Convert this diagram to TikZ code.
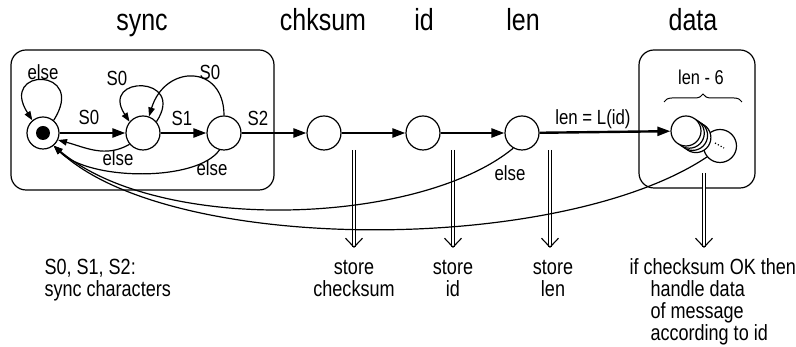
\documentclass[tikz,border=0pt]{standalone}
\usepackage{fontspec}
\setmainfont{Liberation Sans}[FakeStretch=0.82]
\usetikzlibrary{arrows.meta,decorations.pathreplacing}

\tikzset{
    state/.style={circle, draw, line width=1.2pt, minimum size=34pt, inner sep=0pt, fill=white},
    group/.style={draw, line width=1.2pt, rounded corners=15pt},
    title/.style={anchor=base, font=\fontsize{30.5}{30.5}\selectfont},
    lbl/.style={font=\fontsize{20.5}{20.5}\selectfont},
    flow/.style={line width=2.4pt, -{Triangle[length=13pt,width=9pt]}},
    back/.style={line width=1.2pt, -{Triangle[length=9pt,width=6.5pt]}},
    store/.style={double, line width=1.1pt, double distance=2.4pt, -{Straight Barb[length=9pt,width=17pt]}},
    note/.style={anchor=base, align=center, font=\fontsize{22}{22}\selectfont}
}

\begin{document}
\begin{tikzpicture}[x=1pt, y=1pt]
    \useasboundingbox (0,0) rectangle (796,347);

    % the rounded boxes around sync and data
    \draw[group] (11,157) rectangle (274,297);
    \draw[group] (639,159) rectangle (755,297);

    % titles
    \node[title] (tsync) at (142,316) {sync};
    \node[title] (tchk) at (323,316) {chksum};
    \node[title] (tid) at (424,316) {id};
    \node[title] (tlen) at (523,316) {len};
    \node[title] (tdata) at (693,316) {data};

    % the states of the receiver
    \node[state, minimum size=32pt] (idle) at (43,214) {};
    \fill (idle) circle (7);
    \node[state] (gots0) at (143,214) {};
    \node[state] (gots1) at (224,214) {};
    \node[state] (chk) at (324,214) {};
    \node[state] (idst) at (423,214) {};
    \node[state] (lenst) at (522,214) {};

    % the stacked data states
    \node[state, minimum size=33pt] (dlast) at (720,201) {};
    \draw[line width=1.2pt, dotted] (715,204) -- (724,199);
    \foreach \d in {3,2,1}
        \draw[line width=1.2pt, fill=white] (686+3.3*\d,216-2.2*\d) circle (15);
    \node[state, minimum size=30pt] (dfront) at (686,216) {};

    % the brace for the data length
    \draw[line width=1pt, decorate, decoration={brace, amplitude=8pt}] (664,245) -- (742,245);
    \node[lbl, font=\fontsize{20}{20}\selectfont] (nlen) at (701,270) {len - 6};

    % the main chain
    \draw[flow] (idle) -- (gots0);
    \draw[flow] (gots0) -- (gots1);
    \draw[flow] (gots1) -- (chk);
    \draw[flow] (chk) -- (idst);
    \draw[flow] (idst) -- (lenst);
    \draw[flow] (lenst) -- (dfront);
    \node[lbl] (ls0) at (89,230) {S0};
    \node[lbl] (ls1) at (182,229) {S1};
    \node[lbl] (ls2) at (258,229) {S2};
    \node[lbl] (llen) at (593,228) {len = L(id)};

    % loops and arcs inside sync
    \draw[back] (idle.50) .. controls (88,280) and (-2,280) .. (idle.130);
    \node[lbl] (lloop0) at (43,275) {else};
    \draw[back] (gots0.40) .. controls (187,272) and (99,272) .. (gots0.140);
    \node[lbl] (lloop1) at (117,269) {S0};
    \draw[back] (gots1.90) .. controls (224,283) and (165,283) .. (gots0.70);
    \node[lbl] (larc) at (210,275) {S0};
    \draw[back] (gots0.220) to[out=210, in=-15] (idle.-25);
    \node[lbl] (lel1) at (118,189) {else};
    \draw[back] (gots1.255) .. controls (197,165) and (89,166) .. (idle.-50);
    \node[lbl] (lel2) at (212,179) {else};

    % storing the fields
    \coordinate (chkin) at (354,197);
    \coordinate (chkout) at (354,99);
    \coordinate (idin) at (453,197);
    \coordinate (idout) at (453,99);
    \coordinate (lenin) at (550,197);
    \coordinate (lenout) at (550,99);
    \coordinate (datain) at (704,174);
    \coordinate (dataout) at (704,99);
    \draw[store] (chkin) -- (chkout);
    \draw[store] (idin) -- (idout);
    \draw[store] (lenin) -- (lenout);
    \draw[store] (datain) -- (dataout);

    % the long way back to idle
    \draw[back] (lenst.240) .. controls (420,122) and (160,112) .. (idle.-50);
    \node[lbl] (lel3) at (510,174) {else};
    \draw[back] (dlast.220) .. controls (560,92) and (170,92) .. (idle.-50);

    % notes below
    \node[note, anchor=base west, align=left] (nsync) at (41,50) {S0, S1, S2:\\sync characters};
    \node[note] (nchk) at (354,50) {store\\checksum};
    \node[note] (nid) at (453,50) {store\\id};
    \node[note] (nlen2) at (553,50) {store\\len};
    \node[note, anchor=base west, align=left] (ndata) at (626,6)
        {if checksum OK then\\\hspace*{21pt}handle data\\\hspace*{21pt}of message\\\hspace*{21pt}according to id};
\end{tikzpicture}
\end{document}
